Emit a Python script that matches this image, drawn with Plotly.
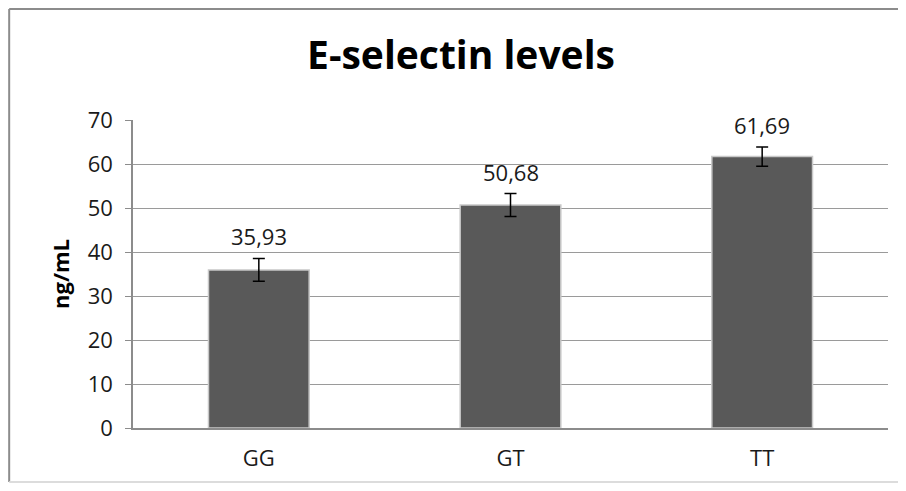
import plotly.graph_objects as go

# genotype groups and E-selectin means (ng/mL)
genotypes = ["GG", "GT", "TT"]
levels = [35.93, 50.68, 61.69]
errors = [2.6, 2.6, 2.2]
value_labels = ["35,93", "50,68", "61,69"]
y_ticks = [0, 10, 20, 30, 40, 50, 60, 70]

fnt = "Open Sans, Liberation Sans, sans-serif"

fig = go.Figure()
fig.add_trace(go.Bar(
    x=genotypes, y=levels, width=0.4,
    marker=dict(color="#595959", line=dict(color="#c8c8c8", width=1.5)),
    error_y=dict(type="data", array=errors, color="#000000", thickness=1.5, width=6),
    hoverinfo="x+y",
))

# data labels above each error bar
for g, v, e, lab in zip(genotypes, levels, errors, value_labels):
    fig.add_annotation(x=g, y=v + e, text=lab, showarrow=False,
                       yanchor="bottom", yshift=5,
                       font=dict(family=fnt, size=22, color="#1a1a1a"))

# outer frame of the chart (left/top darker, bottom faint)
fig.add_shape(type="line", xref="paper", yref="paper",
              x0=-0.164, x1=-0.164, y0=-0.175, y1=1.3604,
              line=dict(color="#8c8c8c", width=2))
fig.add_shape(type="line", xref="paper", yref="paper",
              x0=-0.164, x1=1.03, y0=1.3604, y1=1.3604,
              line=dict(color="#8c8c8c", width=2))
fig.add_shape(type="line", xref="paper", yref="paper",
              x0=-0.164, x1=1.03, y0=-0.175, y1=-0.175,
              line=dict(color="#dcdcdc", width=2))

fig.update_layout(
    width=890, height=475,
    margin=dict(l=125, r=10, t=112, b=55),
    paper_bgcolor="white", plot_bgcolor="white",
    showlegend=False,
    title=dict(text="<b>E-selectin levels</b>", x=0.509, xanchor="center",
               y=0.901, yanchor="middle",
               font=dict(family=fnt, size=39, color="#000000")),
    bargap=0.6,
)
fig.update_xaxes(showline=True, linecolor="#8c8c8c", linewidth=1.5,
                 ticks="", ticklabelstandoff=10,
                 tickfont=dict(family=fnt, size=22, color="#1a1a1a"))
fig.update_yaxes(range=[0, 70], tickvals=y_ticks, showgrid=True,
                 gridcolor="#9a9a9a", gridwidth=1.2,
                 showline=True, linecolor="#8c8c8c", linewidth=1.5,
                 ticks="outside", ticklen=6, tickcolor="#8c8c8c",
                 ticklabelstandoff=8,
                 tickfont=dict(family=fnt, size=22, color="#1a1a1a"),
                 title=dict(text="<b>ng/mL</b>", standoff=12,
                            font=dict(family=fnt, size=22, color="#000000")),
                 zeroline=False)

fig.write_html("out.html")
